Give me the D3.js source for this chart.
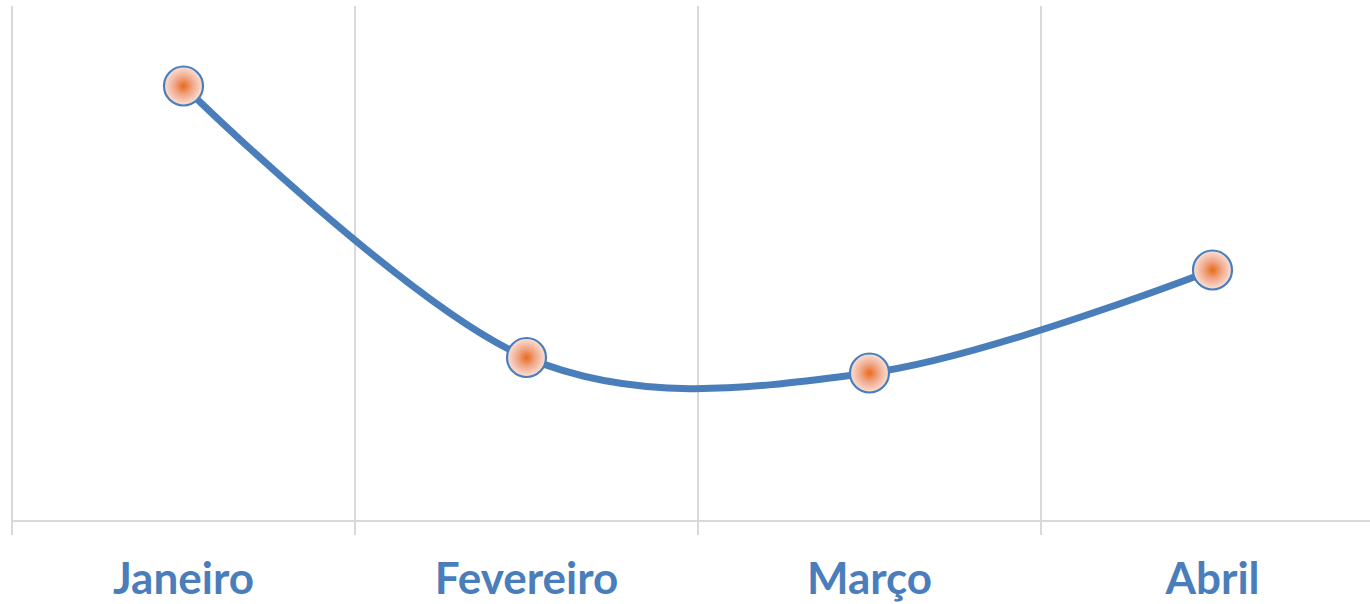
<!DOCTYPE html>
<html>
<head>
<meta charset="utf-8">
<script src="https://cdn.jsdelivr.net/npm/d3@7"></script>
<style>
  html, body { margin: 0; padding: 0; background: #fff; }
  svg { display: block; }
  .grid line { stroke: #d9d9d9; stroke-width: 2; }
  .label { font-family: Lato, "Open Sans", sans-serif; font-weight: 700; font-size: 44px; fill: #4a7ebb; }
</style>
</head>
<body>
<svg id="chart" width="1370" height="604"></svg>
<script>
// Monthly series, values (no y axis shown)
const months = ['Janeiro', 'Fevereiro', 'Março', 'Abril'];
const values = [87, 32.7, 29.6, 50.2];

const svgEl  = document.getElementById('chart');
const svg    = d3.select(svgEl);
const width  = 1370;
const height = 604;

const left = 12, bandW = 343;
const x = d3.scaleBand().domain(months).range([left, left + bandW * months.length]);
const y = d3.scaleLinear().domain([0, 100]).range([521, 21]);

const defs = svg.append('defs');
const grad = defs.append('radialGradient').attr('id', 'dot');
grad.append('stop').attr('offset', '0%').attr('stop-color', '#e86a1a');
grad.append('stop').attr('offset', '45%').attr('stop-color', '#f0a585');
grad.append('stop').attr('offset', '100%').attr('stop-color', '#fae2da');

// Vertical gridlines at band edges + category axis
const edges = months.map(m => x(m)).concat([x(months[months.length - 1]) + bandW]);
const grid = svg.append('g').attr('class', 'grid');
grid.selectAll('line.v')
  .data(edges)
  .join('line')
  .attr('class', 'v')
  .attr('x1', d => d).attr('x2', d => d)
  .attr('y1', 6).attr('y2', 535);
grid.append('line')
  .attr('x1', left).attr('x2', width)
  .attr('y1', y(0)).attr('y2', y(0));

// Category labels
svg.append('g')
  .selectAll('text')
  .data(months)
  .join('text')
  .attr('class', 'label')
  .attr('x', d => x(d) + x.bandwidth() / 2)
  .attr('y', 594)
  .attr('text-anchor', 'middle')
  .text(d => d);

const pts = months.map((m, i) => [x(m) + x.bandwidth() / 2, y(values[i])]);

// Smoothed line
svg.append('path')
  .datum(pts)
  .attr('fill', 'none')
  .attr('stroke', '#4a7ebb')
  .attr('stroke-width', 7)
  .attr('stroke-linecap', 'round')
  .attr('d', d3.line().curve(d3.curveCardinal.tension(0)));

// Markers
svg.append('g')
  .selectAll('circle')
  .data(pts)
  .join('circle')
  .attr('cx', d => d[0])
  .attr('cy', d => d[1])
  .attr('r', 19.5)
  .attr('fill', 'url(#dot)')
  .attr('stroke', '#4a7ebb')
  .attr('stroke-width', 2.2);
</script>
</body>
</html>
